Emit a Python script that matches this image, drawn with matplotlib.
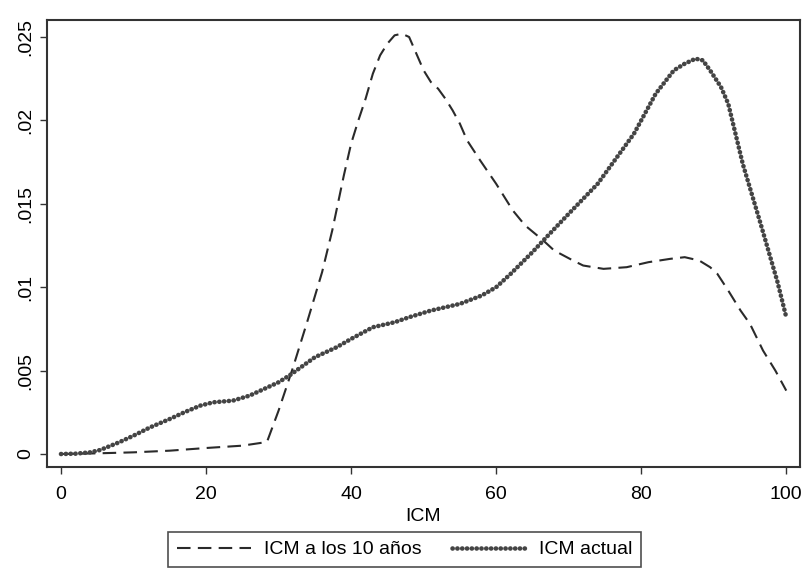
import matplotlib
matplotlib.use("Agg")
import matplotlib.pyplot as plt

plt.rcParams['font.family'] = ['Liberation Sans', 'DejaVu Sans']

# ICM a los 10 años (dashed)
x_10 = [0, 5, 10, 15, 20, 25, 28.4, 30, 32, 34, 36, 37.4, 39, 40, 41, 42, 43, 44, 45, 46,
        47, 48, 49, 50, 51, 52, 53, 54, 55, 56, 57.8, 60, 62.3, 64, 66.5, 68, 70.6, 72,
        74.8, 78, 81, 84, 86, 88, 89.5, 90.5, 92, 93.7, 95, 96.8, 98.5, 100]
y_10 = [0.0, 0.00004, 0.0001, 0.0002, 0.00036, 0.0005, 0.00072, 0.0026, 0.0052, 0.0080,
        0.0109, 0.0134, 0.0167, 0.0186, 0.0200, 0.0213, 0.0228, 0.0239, 0.0246, 0.0251,
        0.0252, 0.0250, 0.0240, 0.0230, 0.0223, 0.0219, 0.0213, 0.0206, 0.0198, 0.0188,
        0.0176, 0.0162, 0.0146, 0.0137, 0.0128, 0.0122, 0.0116, 0.0113, 0.0111, 0.0112,
        0.0115, 0.0117, 0.0118, 0.0116, 0.0112, 0.0108, 0.0098, 0.0086, 0.0078, 0.0062,
        0.0050, 0.0038]

# ICM actual (dotted)
x_act = [0, 2, 4, 5.4, 8, 10, 12.3, 15, 17, 19.2, 21, 23.7, 26, 28, 30, 31.6, 35, 38, 40,
         43, 46, 48, 51, 55, 58, 60, 62, 65, 66.5, 70, 74, 77, 79, 82, 84.5, 86, 87.5,
         88.5, 89.5, 91, 92, 94, 96.4, 98.8, 100]
y_act = [0.0, 0.00002, 0.0001, 0.00024, 0.0007, 0.0011, 0.0016, 0.0021, 0.0025, 0.0029,
         0.0031, 0.0032, 0.0035, 0.0039, 0.0043, 0.00474, 0.0058, 0.0064, 0.0069, 0.0076,
         0.0079, 0.0082, 0.0086, 0.0090, 0.0095, 0.0100, 0.0108, 0.0121, 0.0128, 0.0144,
         0.0162, 0.0180, 0.0192, 0.0216, 0.0230, 0.0234, 0.0237, 0.0236, 0.0230, 0.0220,
         0.0210, 0.0174, 0.0139, 0.0103, 0.0082]

x_ticks = [0, 20, 40, 60, 80, 100]
y_ticks = [0, 0.005, 0.01, 0.015, 0.02, 0.025]
y_tick_labels = ['0', '.005', '.01', '.015', '.02', '.025']

fig = plt.figure(figsize=(8.06, 5.71), dpi=100)
ax = fig.add_axes([0.0583, 0.1821, 0.9343, 0.7829])

ax.plot(x_10, y_10, color='#2a2a2a', lw=1.5, linestyle=(0, (6.5, 3.5)),
        label='ICM a los 10 años')
ax.plot(x_act, y_act, color='#444444', lw=3.3, linestyle=(0, (0.05, 1.0)),
        dash_capstyle='round', label='ICM actual')

ax.set_xlim(-1.93, 101.9)
ax.set_ylim(-0.00078, 0.02602)
ax.set_xticks(x_ticks)
ax.set_yticks(y_ticks)
ax.set_yticklabels(y_tick_labels, rotation=90, va='center')
ax.tick_params(axis='both', labelsize=14, length=5, width=1, color='#333333',
               direction='out')
ax.tick_params(axis='x', pad=9)
ax.tick_params(axis='y', pad=4)
for s in ax.spines.values():
    s.set_linewidth(1.5)
    s.set_color('#333333')

ax.set_xlabel('ICM', fontsize=14, labelpad=3)

leg = fig.legend(loc='upper center', bbox_to_anchor=(0.502, 1 - 532 / 571), ncol=2,
                 fontsize=14, frameon=True, fancybox=False, edgecolor='#222222',
                 handlelength=3.8, handletextpad=0.65, columnspacing=1.6,
                 borderpad=0.45, borderaxespad=0)
leg.get_frame().set_linewidth(1.2)

fig.savefig('out.png', dpi=100)
